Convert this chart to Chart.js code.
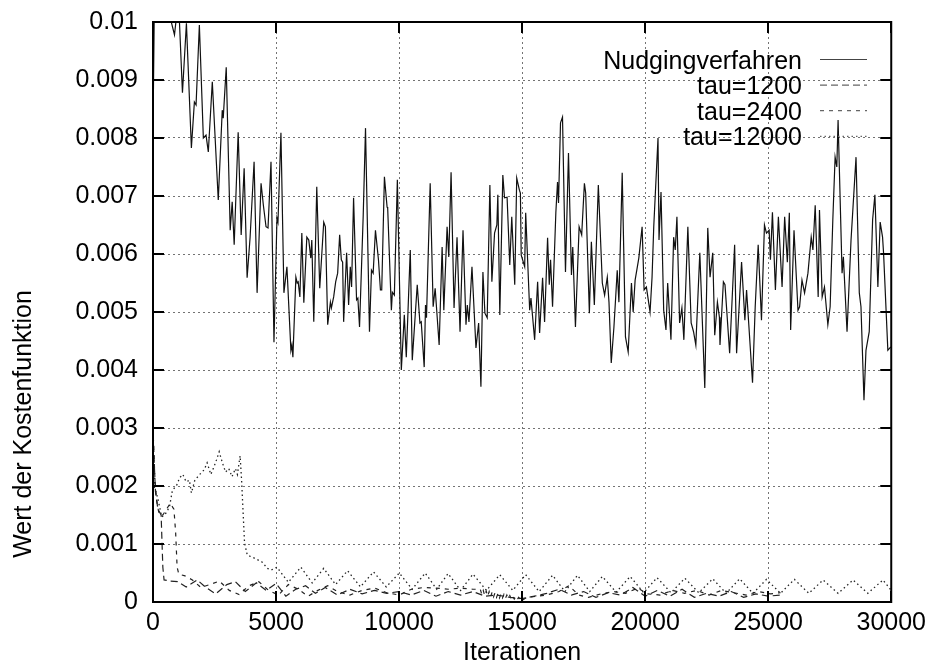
<!DOCTYPE html>
<html><head><meta charset="utf-8">
<script src="https://cdn.jsdelivr.net/npm/chart.js@4"></script>
<style>html,body{margin:0;padding:0;background:#fff}canvas{display:block}</style>
</head><body>
<canvas id="c" width="932" height="665" style="width:932px;height:665px"></canvas>
<script>
const FONT = '"Liberation Sans", Arial, Helvetica, sans-serif';
const FONT_SIZE = 25;
const xTickValues = [0, 5000, 10000, 15000, 20000, 25000, 30000];
const yTickValues = [0, 0.001, 0.002, 0.003, 0.004, 0.005, 0.006, 0.007, 0.008, 0.009, 0.01];
const xTitle = 'Iterationen';
const yTitle = 'Wert der Kostenfunktion';
const seriesNames = ['Nudgingverfahren', 'tau=1200', 'tau=2400', 'tau=12000'];

const nudgingIter = [0,60,270,873,1035,1197,1358,1560,1682,1750,1884,2046,2155,2248,2410,2652,2814,2854,2976,3137,3218,3299,3461,3583,3704,3825,3946,4108,4230,4391,4485,4593,4674,4795,4916,5038,5078,5199,5320,5442,5604,5644,5685,5806,5859,5900,5968,6048,6129,6251,6331,6412,6453,6533,6655,6776,6938,7006,7099,7209,7249,7342,7423,7504,7585,7653,7706,7747,7868,7949,8017,8070,8151,8272,8325,8393,8543,8636,8797,8878,8946,9040,9162,9242,9295,9404,9513,9537,9687,9727,9808,9930,10091,10213,10241,10293,10455,10536,10738,10847,10900,11021,11074,11114,11264,11385,11466,11628,11749,11818,11951,12020,12113,12234,12355,12477,12598,12719,12772,12840,12962,13124,13233,13326,13407,13488,13581,13690,13771,13880,13973,14013,14094,14216,14284,14389,14498,14579,14700,14781,14890,14930,14963,15104,15145,15307,15359,15509,15630,15711,15832,15913,16035,16103,16156,16237,16371,16439,16479,16560,16641,16762,16884,17005,17058,17167,17316,17421,17531,17583,17733,17814,17935,18097,18259,18352,18461,18530,18622,18731,18796,18865,18933,19067,19200,19310,19443,19512,19592,19742,19876,19957,20050,20199,20280,20349,20522,20563,20644,20753,20846,20915,21048,21157,21222,21291,21400,21493,21573,21735,21869,21966,22059,22221,22423,22544,22637,22746,22827,22936,23017,23041,23179,23244,23433,23636,23716,23918,24052,24121,24363,24472,24593,24727,24848,24929,25038,25091,25172,25293,25414,25564,25669,25778,25859,25912,26049,26210,26276,26373,26478,26615,26748,26817,26910,27031,27084,27193,27287,27424,27517,27626,27719,27788,27840,28002,28055,28204,28366,28569,28702,28770,28892,28973,29106,29243,29336,29457,29550,29647,29688,29862,29980];
const nudgingCost = [0.00814,0.0105,0.0108,0.00978,0.0104,0.00878,0.00998,0.00783,0.00862,0.00857,0.00995,0.00800,0.00805,0.00776,0.00897,0.00693,0.00848,0.00834,0.00922,0.00641,0.00690,0.00616,0.00810,0.00633,0.00748,0.00559,0.00629,0.00759,0.00533,0.00722,0.00684,0.00647,0.00645,0.00759,0.00448,0.00662,0.00655,0.00809,0.00533,0.00578,0.00434,0.00443,0.00422,0.00560,0.00550,0.00552,0.00526,0.00636,0.00516,0.00629,0.00624,0.00593,0.00624,0.00483,0.00716,0.00541,0.00655,0.00647,0.00478,0.00517,0.00507,0.00526,0.00552,0.00567,0.00633,0.00590,0.00586,0.00483,0.00602,0.00512,0.00578,0.00543,0.00697,0.00521,0.00524,0.00474,0.00667,0.00817,0.00466,0.00572,0.00567,0.00641,0.00590,0.00538,0.00538,0.00733,0.00681,0.00679,0.00503,0.00534,0.00529,0.00728,0.00400,0.00495,0.00469,0.00422,0.00607,0.00417,0.00547,0.00481,0.00483,0.00405,0.00512,0.00490,0.00722,0.00509,0.00541,0.00443,0.00612,0.00503,0.00647,0.00595,0.00741,0.00507,0.00629,0.00466,0.00641,0.00478,0.00512,0.00483,0.00578,0.00438,0.00481,0.00371,0.00569,0.00498,0.00490,0.00719,0.00552,0.00636,0.00650,0.00702,0.00495,0.00736,0.00697,0.00698,0.00581,0.00664,0.00547,0.00731,0.00710,0.00705,0.00598,0.00578,0.00671,0.00503,0.00524,0.00452,0.00552,0.00464,0.00559,0.00483,0.00628,0.00547,0.00590,0.00509,0.00672,0.00724,0.00688,0.00826,0.00836,0.00569,0.00774,0.00564,0.00612,0.00474,0.00647,0.00633,0.00722,0.00705,0.00498,0.00621,0.00512,0.00719,0.00550,0.00529,0.00560,0.00517,0.00412,0.00474,0.00521,0.00572,0.00517,0.00740,0.00457,0.00431,0.00550,0.00500,0.00555,0.00593,0.00647,0.00538,0.00543,0.00500,0.00560,0.00647,0.00800,0.00624,0.00707,0.00503,0.00469,0.00550,0.00452,0.00629,0.00607,0.00664,0.00481,0.00507,0.00452,0.00647,0.00481,0.00466,0.00443,0.00602,0.00369,0.00645,0.00560,0.00602,0.00460,0.00517,0.00491,0.00443,0.00552,0.00547,0.00429,0.00616,0.00429,0.00586,0.00486,0.00538,0.00378,0.00509,0.00616,0.00486,0.00650,0.00636,0.00641,0.00590,0.00672,0.00538,0.00664,0.00543,0.00664,0.00586,0.00671,0.00469,0.00641,0.00503,0.00509,0.00555,0.00533,0.00567,0.00629,0.00607,0.00684,0.00526,0.00676,0.00526,0.00543,0.00478,0.00509,0.00659,0.00767,0.00750,0.00831,0.00567,0.00595,0.00466,0.00624,0.00767,0.00533,0.00509,0.00348,0.00434,0.00466,0.00659,0.00702,0.00543,0.00655,0.00629,0.00602,0.00434,0.00440];

const tau1200Iter = [0,100,200,330,400,450,700,1000,1350,1800,2150,2550,3000,3350,3750,4200,4600,5000,5400,5800,6200,6600,7000,7500,8000,8500,9000,9500,10000,10500,11000,11500,12000,12500,13000,13500,14000,14500,15000,15500,16000,16500,17000,17500,18000,18500,19000,19500,20000,20500,21000,21500,22000,22500,23000,23500,24000,24500,25000,25500];
const tau1200Cost = [0.0029,0.0019,0.0016,0.0015,0.0006,0.00038,0.00036,0.00035,0.00026,0.00038,0.00025,0.00014,0.0003,0.00035,0.00018,0.00033,0.0002,0.00032,0.0001,0.00022,0.00028,0.00015,0.00025,0.00012,0.00022,0.00014,0.0002,0.00015,0.00018,0.00012,0.0002,0.0001,0.00018,0.00012,0.00018,0.0001,0.00012,0.00008,0.00006,0.0001,0.00015,0.00022,0.00012,0.00018,0.00008,0.00016,0.00012,0.00025,0.0001,0.0002,0.0001,0.00022,0.00008,0.00015,0.0001,0.00018,0.00008,0.00014,0.0001,0.00012];

const tau2400Iter = [0,80,150,250,400,550,700,850,920,980,1050,1300,1600,1950,2300,2700,3100,3500,3900,4300,4700,5100,5500,5900,6300,6700,7100,7500,8000,8500,9000,9500,10000,10500,11000,11500,12000,12500,13000,13300,13360,13420,13480,13540,13600,13660,13720,13780,13840,13900,13960,14020,14080,14140,14200,14260,14320,14380,14440,14500,14560,14620,14680,14740,14800,14860,14920,14980,15040,15200,15600,16000,16500,16900,17300,17700,18200,18700,19200,19700,20100,20600,21100,21600,22100,22600,23100,23600,24100,24600,25100,25500];
const tau2400Cost = [0.0030,0.0021,0.00175,0.0015,0.0015,0.0016,0.0017,0.0016,0.0012,0.0006,0.00048,0.00045,0.00038,0.00025,0.0003,0.00036,0.0002,0.00013,0.00028,0.00035,0.0002,0.00012,0.0003,0.00022,0.0001,0.0002,0.00028,0.00018,0.00012,0.0002,0.00024,0.00016,0.00012,0.00022,0.00025,0.00024,0.00022,0.00024,0.00022,0.00022,0.00013,0.0002,0.00011,0.00019,0.0001,0.00018,0.00009,0.00017,0.00009,0.00016,0.00008,0.00015,0.00007,0.00014,0.00007,0.00013,0.00006,0.00012,0.00006,0.00011,0.00005,0.0001,0.00005,0.00009,0.00004,0.00008,0.00004,0.00007,0.00004,0.00008,0.0001,0.00012,0.00018,0.00028,0.00012,0.00008,0.00014,0.00018,0.00015,0.00024,0.00014,0.00012,0.0002,0.00015,0.0002,0.00012,0.0002,0.00016,0.00012,0.00018,0.00014,0.00016];

const tau12000Iter = [0,60,190,350,480,670,790,950,1080,1210,1350,1480,1560,1700,1900,2080,2200,2350,2450,2580,2690,2820,2950,3080,3210,3350,3430,3540,3600,3720,3830,4100,4430,4650,4800,5037,5500,6008,6470,6938,7420,7908,8430,8960,9480,10010,10530,11062,11530,11992,12500,13003,13550,14094,14620,15145,15690,16237,16740,17248,17750,18259,18820,19391,19940,20483,21050,21615,22180,22747,23290,23839,24380,24930,25500,26062,26650,27235,27840,28448,29050,29661,30000];
const tau12000Cost = [0.0030,0.00197,0.0018,0.00147,0.0015,0.00164,0.00193,0.0020,0.00214,0.0022,0.00207,0.0021,0.00188,0.0021,0.0022,0.00228,0.0024,0.0022,0.0023,0.00245,0.00259,0.0024,0.00224,0.0023,0.00216,0.0023,0.0022,0.00252,0.0021,0.00102,0.00081,0.00076,0.00069,0.00058,0.00055,0.0006,0.00034,0.0006,0.00033,0.00058,0.0003,0.00054,0.00026,0.00052,0.00026,0.0005,0.00022,0.0005,0.00022,0.00049,0.0002,0.00048,0.0002,0.00047,0.0002,0.00047,0.00018,0.00046,0.00018,0.00046,0.00018,0.00044,0.00017,0.00044,0.00016,0.00042,0.00016,0.00041,0.00016,0.0004,0.00015,0.0004,0.00015,0.00039,0.00015,0.00039,0.00015,0.00038,0.00015,0.00038,0.00015,0.00038,0.0002];

const zip = (xs, ys) => xs.map((x, i) => ({x: x, y: ys[i]}));

const styles = [
  {color: '#111', width: 1.2, dash: [], legendColor: '#444'},
  {color: '#222', width: 1.2, dash: [7, 4], legendColor: '#666'},
  {color: '#222', width: 1.2, dash: [4, 5], legendColor: '#666'},
  {color: '#222', width: 1.3, dash: [1.5, 3], legendColor: '#666'}
];
const seriesData = [zip(nudgingIter, nudgingCost), zip(tau1200Iter, tau1200Cost), zip(tau2400Iter, tau2400Cost), zip(tau12000Iter, tau12000Cost)];

const framePlugin = {
  id: 'frame',
  afterDatasetsDraw(chart) {
    const ctx = chart.ctx, a = chart.chartArea, xs = chart.scales.x, ys = chart.scales.y;
    ctx.save();
    ctx.strokeStyle = '#000';
    ctx.lineWidth = 2;
    ctx.setLineDash([]);
    ctx.strokeRect(a.left, a.top, a.right - a.left, a.bottom - a.top);
    const L = 11;
    ctx.beginPath();
    xs.ticks.forEach(t => {
      const p = Math.round(xs.getPixelForValue(t.value));
      ctx.moveTo(p, a.bottom); ctx.lineTo(p, a.bottom - L);
      ctx.moveTo(p, a.top); ctx.lineTo(p, a.top + L);
    });
    ys.ticks.forEach(t => {
      const p = Math.round(ys.getPixelForValue(t.value));
      ctx.moveTo(a.left, p); ctx.lineTo(a.left + L, p);
      ctx.moveTo(a.right, p); ctx.lineTo(a.right - L, p);
    });
    ctx.stroke();

    ctx.fillStyle = '#000';
    ctx.font = FONT_SIZE + 'px ' + FONT;
    ctx.textAlign = 'center';
    ctx.textBaseline = 'middle';
    ctx.fillText(xTitle, (a.left + a.right) / 2, 653);
    ctx.save();
    ctx.translate(24, 424);
    ctx.rotate(-Math.PI / 2);
    ctx.fillText(yTitle, 0, 0);
    ctx.restore();

    // legend
    ctx.textAlign = 'right';
    ctx.textBaseline = 'alphabetic';
    chart.data.datasets.forEach((ds, i) => {
      const yRow = 59.5 + 25.6 * i;
      ctx.fillStyle = '#000';
      ctx.fillText(ds.label, 802, yRow + 9);
      ctx.beginPath();
      ctx.strokeStyle = styles[i].legendColor;
      ctx.lineWidth = 1.2;
      ctx.setLineDash(styles[i].dash);
      ctx.moveTo(820, yRow);
      ctx.lineTo(867, yRow);
      ctx.stroke();
    });
    ctx.restore();
  }
};

new Chart(document.getElementById('c'), {
  type: 'line',
  data: {
    datasets: seriesNames.map((name, i) => ({
      label: name,
      data: seriesData[i],
      borderColor: styles[i].color,
      borderWidth: styles[i].width,
      borderDash: styles[i].dash,
      pointRadius: 0,
      fill: false,
      tension: 0
    }))
  },
  options: {
    responsive: false,
    animation: false,
    devicePixelRatio: 1,
    layout: {padding: {left: 0, right: 37, top: 22, bottom: 0}},
    plugins: {legend: {display: false}, tooltip: {enabled: false}},
    scales: {
      x: {
        type: 'linear', min: 0, max: 30000,
        afterBuildTicks: s => { s.ticks = xTickValues.map(v => ({value: v})); },
        afterFit: s => { s.height = 63; },
        ticks: {color: '#000', font: {family: FONT, size: FONT_SIZE}, padding: 6, maxRotation: 0, autoSkip: false,
          callback: v => String(v)},
        grid: {color: 'rgba(0,0,0,0.55)', lineWidth: 1, drawTicks: false},
        border: {display: false, dash: [2, 3]}
      },
      y: {
        type: 'linear', min: 0, max: 0.01,
        afterBuildTicks: s => { s.ticks = yTickValues.map(v => ({value: v})); },
        afterFit: s => { s.width = 153; s.paddingTop = 0; s.paddingBottom = 0; },
        ticks: {color: '#000', font: {family: FONT, size: FONT_SIZE, lineHeight: 0.5}, padding: 15, autoSkip: false,
          callback: v => String(parseFloat(Number(v).toFixed(3)))},
        grid: {color: 'rgba(0,0,0,0.55)', lineWidth: 1, drawTicks: false},
        border: {display: false, dash: [2, 3]}
      }
    }
  },
  plugins: [framePlugin]
});
</script>
</body></html>
